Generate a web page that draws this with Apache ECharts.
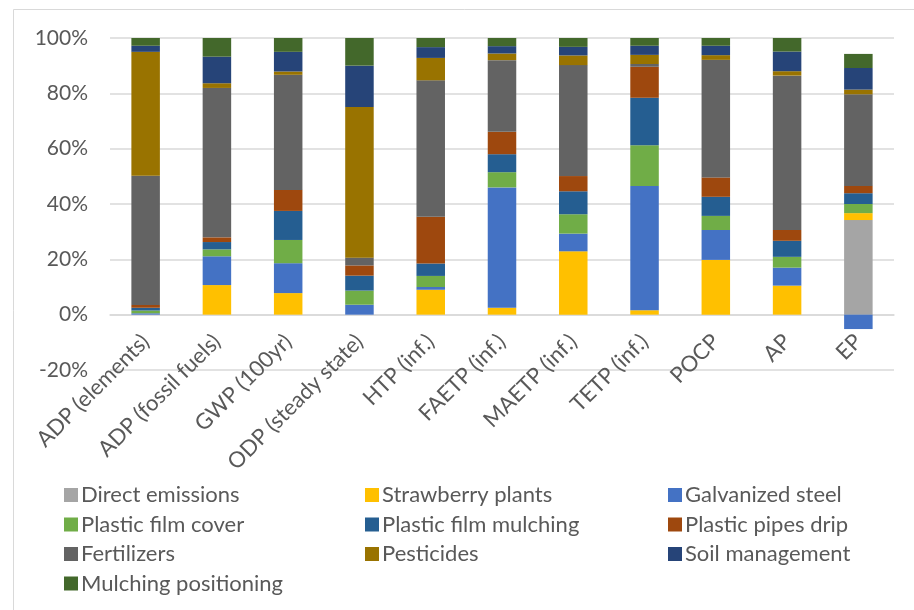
<!DOCTYPE html>
<html>
<head>
<meta charset="utf-8">
<script src="https://cdn.jsdelivr.net/npm/echarts@6/dist/echarts.min.js"></script>
<style>
  html, body { margin: 0; padding: 0; background: #ffffff; }
  #chart { width: 914px; height: 610px; }
</style>
</head>
<body>
<div id="chart"></div>
<script>
// Impact categories (x axis)
const categories = [
  'ADP (elements)', 'ADP (fossil fuels)', 'GWP (100yr)', 'ODP (steady state)',
  'HTP (inf.)', 'FAETP (inf.)', 'MAETP (inf.)', 'TETP (inf.)', 'POCP', 'AP', 'EP'
];

// Contribution of each input to every impact category, in %
const directEmissions   = [0, 0, 0, 0, 0, 0, 0, 0, 0, 0, 34.2];
const strawberryPlants  = [0, 10.7, 7.8, 0, 9.0, 2.5, 22.9, 1.6, 19.8, 10.5, 2.5];
const galvanizedSteel   = [0.5, 10.4, 10.8, 3.6, 1.0, 43.5, 6.4, 44.9, 10.8, 6.5, -5.2];
const plasticFilmCover  = [1.0, 2.5, 8.4, 5.1, 4.0, 5.5, 7.0, 14.7, 5.1, 3.9, 3.3];
const plasticFilmMulch  = [1.0, 2.65, 10.5, 5.4, 4.5, 6.5, 8.3, 17.2, 6.9, 5.8, 3.9];
const plasticPipesDrip  = [1.0, 1.7, 7.6, 3.7, 16.9, 8.1, 5.5, 11.2, 7.0, 3.9, 2.65];
const fertilizers       = [46.7, 54.0, 41.6, 2.8, 49.3, 25.9, 40.1, 1.0, 42.5, 55.8, 33.1];
const pesticides        = [44.8, 1.7, 1.2, 54.5, 8.1, 2.4, 3.5, 3.3, 1.7, 1.6, 1.7];
const soilManagement    = [2.2, 9.6, 7.1, 14.9, 3.9, 2.65, 3.1, 3.3, 3.4, 7.1, 7.8];
const mulchingPosition  = [2.8, 6.75, 5.0, 10.0, 3.3, 2.95, 3.2, 2.8, 2.8, 4.9, 5.1];

// Y axis range / ticks (%)
const yMin = -20;
const yMax = 100;
const yStep = 20;

const seriesDefs = [
  { name: 'Direct emissions',     data: directEmissions,  color: '#A5A5A5' },
  { name: 'Strawberry plants',    data: strawberryPlants, color: '#FFC000' },
  { name: 'Galvanized steel',     data: galvanizedSteel,  color: '#4472C4' },
  { name: 'Plastic film cover',   data: plasticFilmCover, color: '#70AD47' },
  { name: 'Plastic film mulching',data: plasticFilmMulch, color: '#255E91' },
  { name: 'Plastic pipes drip',   data: plasticPipesDrip, color: '#9E480E' },
  { name: 'Fertilizers',          data: fertilizers,      color: '#636363' },
  { name: 'Pesticides',           data: pesticides,       color: '#997300' },
  { name: 'Soil management',      data: soilManagement,   color: '#264478' },
  { name: 'Mulching positioning', data: mulchingPosition, color: '#43682B' }
];

const FONT = 'Lato, "Open Sans", sans-serif';
const TEXT = '#595959';

const legendCommon = {
  orient: 'vertical',
  padding: 0,
  itemWidth: 14,
  itemHeight: 14,
  itemGap: 7.5,
  icon: 'rect',
  selectedMode: false,
  textStyle: { fontFamily: FONT, fontSize: 22, color: TEXT, lineHeight: 22, padding: [0, 0, 0, -2] }
};

const chart = echarts.init(document.getElementById('chart'), null, { renderer: 'canvas' });

chart.setOption({
  backgroundColor: '#ffffff',
  animation: false,
  textStyle: { fontFamily: FONT },
  graphic: [{
    type: 'rect',
    shape: { x: 13.5, y: 9.5, width: 1000, height: 1000 },
    style: { fill: 'none', stroke: '#d9d9d9', lineWidth: 1 },
    silent: true
  }],
  grid: { left: 110, right: 20, top: 38, bottom: 240, containLabel: false },
  legend: [
    Object.assign({}, legendCommon, { left: 64, top: 484,
      data: ['Direct emissions', 'Plastic film cover', 'Fertilizers', 'Mulching positioning'] }),
    Object.assign({}, legendCommon, { left: 365, top: 484,
      data: ['Strawberry plants', 'Plastic film mulching', 'Pesticides'] }),
    Object.assign({}, legendCommon, { left: 668, top: 484,
      data: ['Galvanized steel', 'Plastic pipes drip', 'Soil management'] })
  ],
  xAxis: {
    type: 'category',
    data: categories,
    axisTick: { show: false },
    axisLine: { onZero: true, lineStyle: { color: '#d9d9d9', width: 1.5 } },
    axisLabel: {
      interval: 0,
      rotate: 45,
      // category labels sit just under the 0% line
      margin: -32,
      fontFamily: FONT,
      fontSize: 22,
      color: TEXT
    }
  },
  yAxis: {
    type: 'value',
    min: yMin,
    max: yMax,
    interval: yStep,
    axisLine: { show: false },
    axisTick: { show: false },
    splitLine: { lineStyle: { color: '#d9d9d9', width: 1.5 } },
    axisLabel: {
      formatter: '{value}%',
      margin: 22,
      fontFamily: FONT,
      fontSize: 21,
      color: TEXT
    }
  },
  series: seriesDefs.map(s => ({
    name: s.name,
    type: 'bar',
    stack: 'total',
    barWidth: '40%',
    data: s.data,
    itemStyle: { color: s.color }
  }))
});
</script>
</body>
</html>
